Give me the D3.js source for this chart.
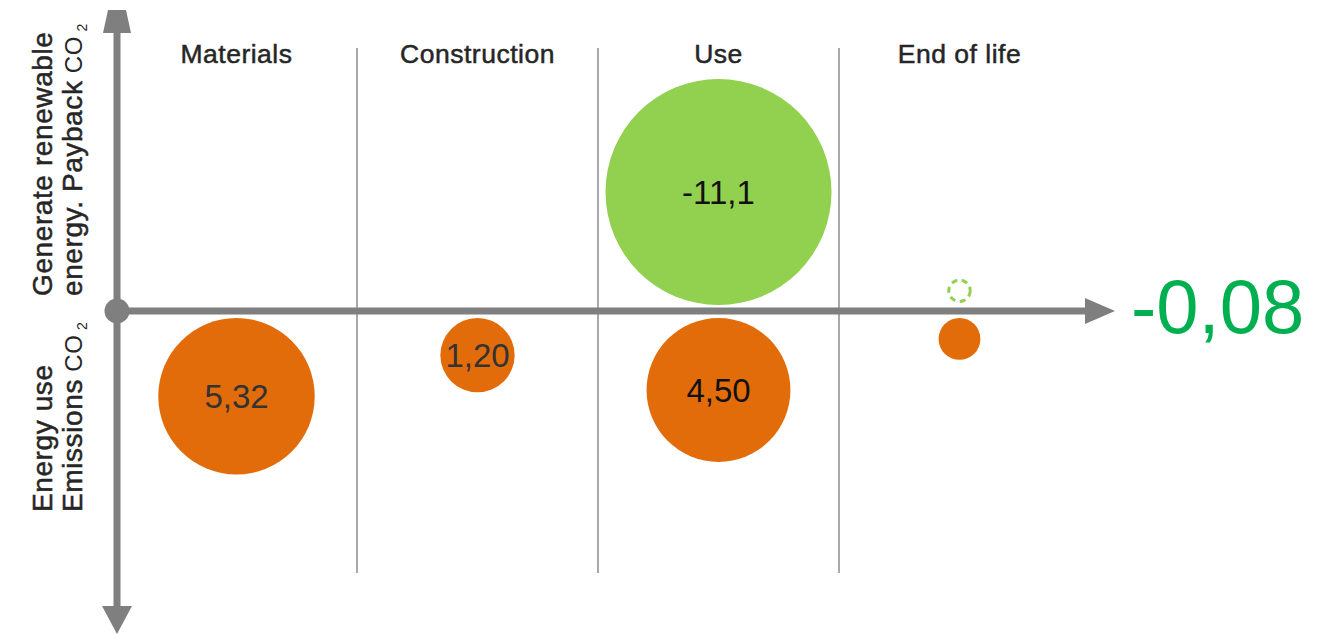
<!DOCTYPE html>
<html>
<head>
<meta charset="utf-8">
<script src="https://cdn.jsdelivr.net/npm/d3@7"></script>
<style>
  html, body { margin: 0; padding: 0; background: #fff; }
  svg { display: block; font-family: "Liberation Sans", Arial, sans-serif; }
</style>
</head>
<body>
<svg id="chart" width="1334" height="634"></svg>
<script>
// Life-cycle phases
const categories = ["Materials", "Construction", "Use", "End of life"];
// CO2 emitted by energy use in each phase (drawn below the axis)
const emissions = [5.32, 1.20, 4.50, 0.38];
// CO2 paid back by renewable energy generation (drawn above the axis)
const payback = [0, 0, 11.1, 0.13];
// Which bubbles carry a printed value
const emissionLabelled = [true, true, true, false];
const paybackLabelled = [false, false, true, false];
// Phase with an uncertain payback, drawn as an outline only
const paybackDashed = [false, false, false, true];
// Net balance over the whole life cycle
const netBalance = -0.08;

const fmtDec = (v, d) => d3.format("." + d + "f")(v).replace(".", ",").replace("−", "-");

const svg = d3.select("#chart");

const originX = 117, originY = 311;
const axisColor = "#7f7f7f";
const orange = "#e36c0a";
const lightGreen = "#92d050";
const netGreen = "#00b050";
const textColor = "#262626";

// Column layout for the phases
const x = d3.scaleBand().domain(categories).range([116, 1080]).paddingInner(0).paddingOuter(0);
// Bubble area proportional to the CO2 amount
const r = d3.scaleSqrt().domain([0, 11.1]).range([0, 113]);

const gapBelow = 7, gapAbove = 6;
const cx = d => x(d.c) + x.bandwidth() / 2;

// Column dividers
svg.append("g").selectAll("line")
  .data(categories.slice(1))
  .join("line")
  .attr("x1", d => x(d)).attr("x2", d => x(d))
  .attr("y1", 48).attr("y2", 573)
  .attr("stroke", "#a9a9a9").attr("stroke-width", 2);

// Phase titles
svg.append("g").selectAll("text")
  .data(categories)
  .join("text")
  .attr("x", d => x(d) + x.bandwidth() / 2)
  .attr("y", 63)
  .attr("text-anchor", "middle")
  .attr("font-size", 26.5)
  .attr("fill", textColor)
  .attr("stroke", textColor)
  .attr("stroke-width", 0.5)
  .style("letter-spacing", "0.5px")
  .text(d => d);

const rows = categories.map((c, i) => ({ c, i, em: emissions[i], pb: payback[i] }));

// Bubbles below the axis: emissions
svg.append("g").selectAll("circle")
  .data(rows.filter(d => d.em > 0))
  .join("circle")
  .attr("cx", cx)
  .attr("cy", d => originY + gapBelow + r(d.em))
  .attr("r", d => r(d.em))
  .attr("fill", orange);

// Bubbles above the axis: payback
svg.append("g").selectAll("circle")
  .data(rows.filter(d => d.pb > 0))
  .join("circle")
  .attr("cx", cx)
  .attr("cy", d => originY - gapAbove - r(d.pb) - (paybackDashed[d.i] ? 2 : 0))
  .attr("r", d => paybackDashed[d.i] ? r(d.pb) - 1.5 : r(d.pb))
  .attr("fill", d => paybackDashed[d.i] ? "none" : lightGreen)
  .attr("stroke", d => paybackDashed[d.i] ? lightGreen : "none")
  .attr("stroke-width", 3)
  .attr("stroke-dasharray", d => paybackDashed[d.i] ? "6,4.5" : null);

// Value labels
svg.append("g").selectAll("text")
  .data(rows.filter(d => emissionLabelled[d.i]))
  .join("text")
  .attr("x", cx)
  .attr("y", d => originY + gapBelow + r(d.em))
  .attr("dy", "0.36em")
  .attr("text-anchor", "middle")
  .attr("font-size", 33)
  .attr("fill", d => d.em >= 4.5 && d.em < 5 ? "#111" : "#333")
  .text(d => fmtDec(d.em, 2));

svg.append("g").selectAll("text")
  .data(rows.filter(d => paybackLabelled[d.i]))
  .join("text")
  .attr("x", cx)
  .attr("y", d => originY - gapAbove - r(d.pb))
  .attr("dy", "0.36em")
  .attr("text-anchor", "middle")
  .attr("font-size", 33)
  .attr("fill", "#111")
  .text(d => fmtDec(-d.pb, 1));

// Axes with arrowheads
const axes = svg.append("g").attr("fill", axisColor);
axes.append("rect").attr("x", originX - 3.5).attr("y", 28).attr("width", 7).attr("height", 582);
axes.append("path").attr("d", `M${originX - 14},33 L${originX - 9},10 L${originX + 9},10 L${originX + 14},33 Z`);
axes.append("path").attr("d", `M${originX - 15},606 L${originX + 15},606 L${originX},634 Z`);
axes.append("rect").attr("x", originX).attr("y", originY - 3.5).attr("width", 975).attr("height", 7);
axes.append("path").attr("d", `M1085,${originY - 13} L1115,${originY} L1085,${originY + 13} Z`);
axes.append("circle").attr("cx", originX).attr("cy", originY).attr("r", 12.5);

// Vertical axis captions
function caption(lines, anchorY) {
  const g = svg.append("g");
  lines.forEach((ln, k) => {
    const t = g.append("text")
      .attr("transform", `translate(${52 + k * 30},${anchorY}) rotate(-90)`)
      .attr("font-size", 28)
      .attr("fill", textColor)
      .attr("stroke", textColor)
      .attr("stroke-width", 0.5)
      .style("letter-spacing", "0.6px");
    t.append("tspan").text(ln.text);
    if (ln.sub) {
      t.append("tspan").text(" CO").attr("font-size", 24).attr("stroke-width", 0);
      t.append("tspan").text(" 2").attr("font-size", 14).attr("dy", 5).attr("stroke-width", 0);
    }
  });
}
caption([{ text: "Generate renewable" }, { text: "energy. Payback", sub: true }], 296);
caption([{ text: "Energy use" }, { text: "Emissions", sub: true }], 512);

// Net balance
svg.append("text")
  .attr("x", 1131)
  .attr("y", 333)
  .attr("font-size", 76)
  .attr("fill", netGreen)
  .text(fmtDec(netBalance, 2));
</script>
</body>
</html>
